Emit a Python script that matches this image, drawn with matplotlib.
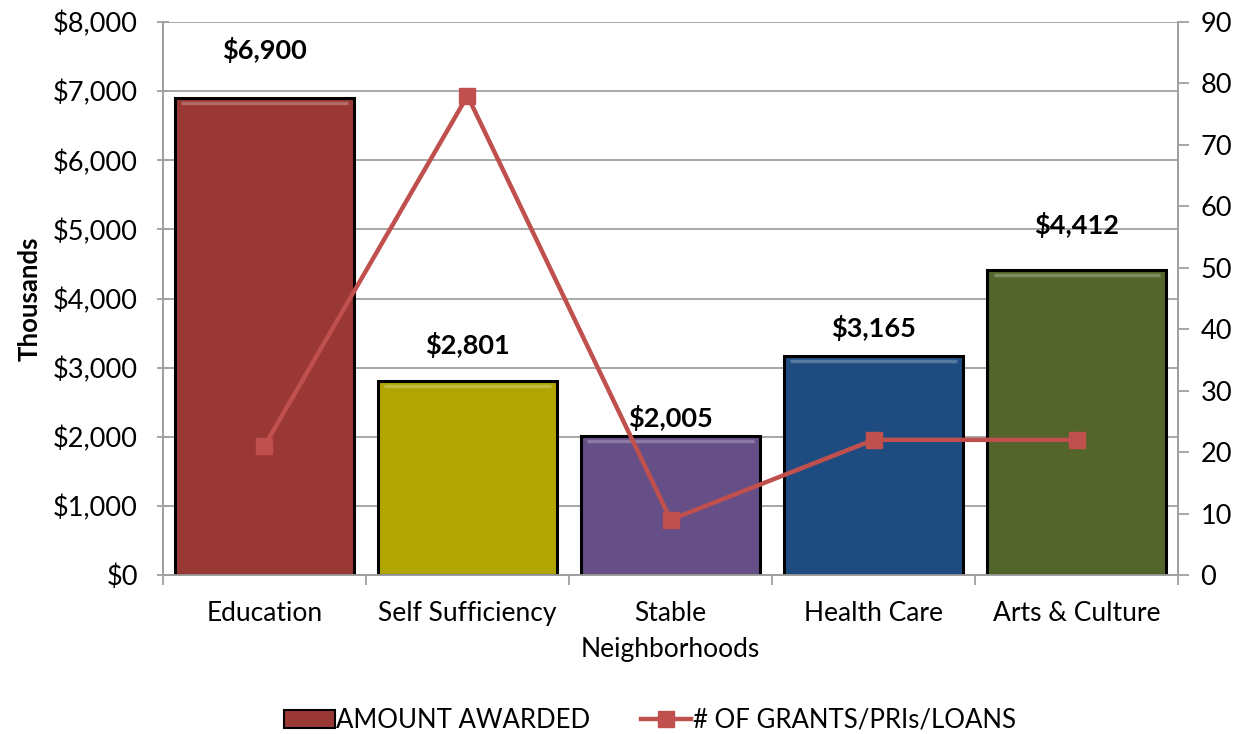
import matplotlib
matplotlib.use("Agg")
import matplotlib.pyplot as plt
from matplotlib.ticker import FuncFormatter, MultipleLocator
from matplotlib.lines import Line2D
from matplotlib.patches import Patch

plt.rcParams['font.family'] = ['Lato', 'DejaVu Sans']

categories = ["Education", "Self Sufficiency", "Stable\nNeighborhoods", "Health Care", "Arts & Culture"]
amounts = [6900, 2801, 2005, 3165, 4412]
counts = [21, 78, 9, 22, 22]
bar_colors = ["#9A3836", "#B0A502", "#664E87", "#1F4C80", "#53652A"]
label_offsets = [695, 526, 266, 408, 651]

fig = plt.figure(figsize=(12.43, 7.34), dpi=100)
ax = fig.add_axes([0.131, 0.2166, 0.817, 0.7534])
ax2 = ax.twinx()

x = list(range(len(categories)))
bars = ax.bar(x, amounts, width=0.88, color=bar_colors, edgecolor="black", linewidth=2.2, zorder=3)
# bevel highlight near top of each bar
for xi, a, c in zip(x, amounts, bar_colors):
    ax.plot([xi - 0.41, xi + 0.41], [a - 70, a - 70], color="white", alpha=0.25, lw=2.5, zorder=4,
            solid_capstyle="butt")

for xi, a, off in zip(x, amounts, label_offsets):
    ax.text(xi, a + off, f"${a:,}", ha="center", va="center", fontsize=19.5, fontweight="bold", zorder=6)

ax.set_xlim(-0.5, 4.5)
ax.set_ylim(0, 8000)
ax.yaxis.set_major_locator(MultipleLocator(1000))
ax.yaxis.set_major_formatter(FuncFormatter(lambda v, p: f"${v:,.0f}"))
ax.grid(axis="y", color="#A0A0A0", linewidth=1.3, zorder=0)
ax.set_axisbelow(True)
ax.set_xticks(x)
ax.set_xticklabels(categories, fontsize=19, linespacing=1.55)
ax.set_xticks([i - 0.5 for i in range(6)], minor=True)
ax.tick_params(axis="x", which="major", length=0, pad=19)
ax.tick_params(axis="x", which="minor", length=7, direction="out", color="#A0A0A0", width=1.3)
ax.tick_params(axis="y", labelsize=19.5, length=8, direction="inout", color="#A0A0A0", width=1.3, pad=14)
ax.set_ylabel("Thousands", fontsize=18.5, fontweight="bold", labelpad=8)

ax2.plot(x, counts, color="#C0504D", lw=3.2, marker="s", markersize=11, zorder=5)
ax2.set_ylim(0, 90)
ax2.yaxis.set_major_locator(MultipleLocator(10))
ax2.tick_params(axis="y", labelsize=19.5, length=8, direction="out", color="#A0A0A0", width=1.3, pad=8)

for a in (ax, ax2):
    for s in a.spines.values():
        s.set_color("#A0A0A0")
        s.set_linewidth(1.3)
    a.spines["top"].set_visible(False)

handles = [Patch(facecolor="#9A3836", edgecolor="black", linewidth=1.5, label="AMOUNT AWARDED"),
           Line2D([0], [0], color="#C0504D", lw=3.2, marker="s", markersize=11, label="# OF GRANTS/PRIs/LOANS")]
fig.legend(handles=handles, loc="center", bbox_to_anchor=(0.523, 0.019), ncol=2, frameon=False,
           fontsize=18.5, handlelength=1.95, handletextpad=0.05, columnspacing=2.0)

fig.savefig("out.png", dpi=100)
